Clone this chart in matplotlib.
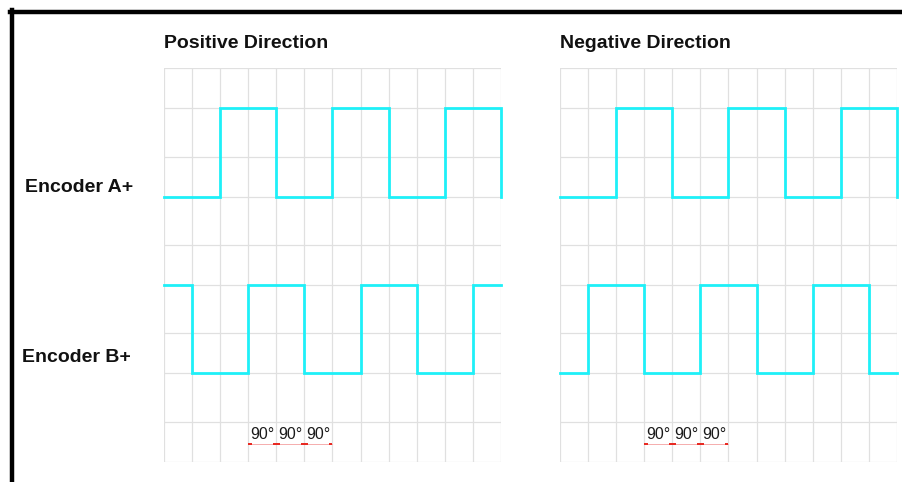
import matplotlib
matplotlib.use("Agg")
import matplotlib.pyplot as plt
from matplotlib.lines import Line2D

plt.rcParams["font.family"] = ["Liberation Sans", "DejaVu Sans"]

# signal levels per grid column edge (0..12), step "post"
pos_a = [0, 0, 1, 1, 0, 0, 1, 1, 0, 0, 1, 1, 0]
pos_b = [1, 0, 0, 1, 1, 0, 0, 1, 1, 0, 0, 1, 1]
neg_a = [0, 0, 1, 1, 0, 0, 1, 1, 0, 0, 1, 1, 0]
neg_b = [0, 1, 1, 0, 0, 1, 1, 0, 0, 1, 1, 0, 0]

# horizontal grid rows (distance from bottom of the grid)
grid_rows = [0, 40, 89, 129, 177, 217, 265, 305, 354, 394]
a_low, a_high = 265, 354
b_low, b_high = 89, 177

phase_cols = [3, 4, 5, 6]
phase_label = "90°"

titles = ["Positive Direction", "Negative Direction"]
signal_names = ["Encoder A+", "Encoder B+"]

CYAN = "#1ef0f8"
W, H = 903, 482

fig = plt.figure(figsize=(W / 100, H / 100), dpi=100)


def draw_panel(left_px, a, b, title):
    ax = fig.add_axes([left_px / W, 20 / H, 337 / W, 394 / H])
    ax.set_xlim(0, 12)
    ax.set_ylim(0, 394)
    ax.set_xticks(range(13))
    ax.set_yticks(grid_rows)
    ax.grid(True, color="#e0e0e0", lw=0.9)
    ax.tick_params(length=0, labelbottom=False, labelleft=False)
    for s in ax.spines.values():
        s.set_visible(False)
    ax.set_axisbelow(True)

    xs = list(range(13))
    ax.step(xs, [a_low + v * (a_high - a_low) for v in a], where="post",
            color=CYAN, lw=2.0, clip_on=False, solid_joinstyle="miter")
    ax.step(xs, [b_low + v * (b_high - b_low) for v in b], where="post",
            color=CYAN, lw=2.0, clip_on=False, solid_joinstyle="miter")

    # 90 degree phase markers
    ax.plot([phase_cols[0], phase_cols[-1]], [18, 18], color="#f4a0a0", lw=0.6)
    for i, c in enumerate(phase_cols):
        lo = c - 0.12 if i > 0 else c
        hi = c + 0.12 if i < len(phase_cols) - 1 else c
        ax.plot([lo, hi], [18, 18], color="#e8261e", lw=1.4,
                solid_capstyle="butt")
    for c in phase_cols[:-1]:
        ax.text(c + 0.5, 23, phase_label, ha="center", va="baseline",
                fontsize=11.5, color="#1a1a1a")

    fig.text(left_px / W, 1 - 48 / H, title, ha="left", va="baseline",
             fontsize=14, fontweight="bold", color="#111111")
    return ax


draw_panel(164, pos_a, pos_b, titles[0])
draw_panel(560, neg_a, neg_b, titles[1])

fig.text(25 / W, 1 - 192 / H, signal_names[0], ha="left", va="baseline",
         fontsize=14, fontweight="bold", color="#111111")
fig.text(22 / W, 1 - 362 / H, signal_names[1], ha="left", va="baseline",
         fontsize=14, fontweight="bold", color="#111111")

# black frame on top and left
fig.add_artist(Line2D([10 / W, 1], [1 - 11.5 / H, 1 - 11.5 / H],
                      transform=fig.transFigure, color="black", lw=3.2))
fig.add_artist(Line2D([12 / W, 12 / W], [0, 1 - 10 / H],
                      transform=fig.transFigure, color="black", lw=3.2))

fig.savefig("out.png", dpi=100)
